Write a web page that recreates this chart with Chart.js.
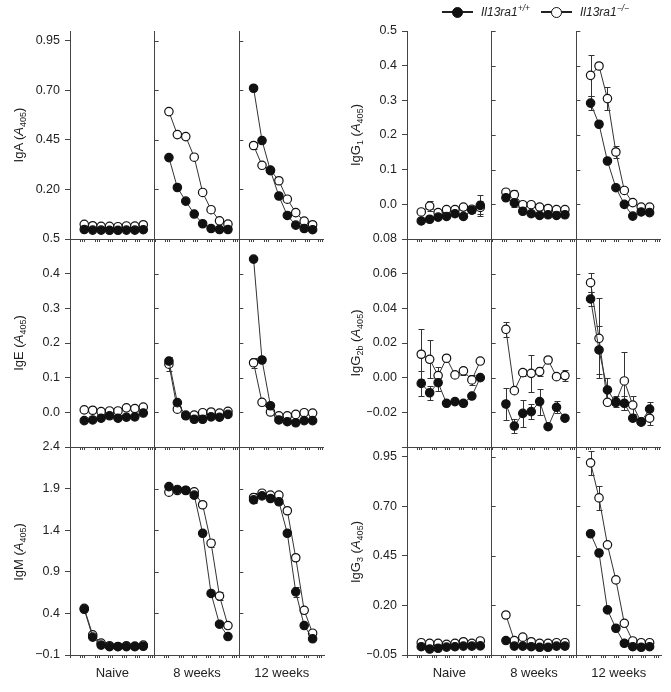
<!DOCTYPE html>
<html>
<head>
<meta charset="utf-8">
<script src="https://cdn.jsdelivr.net/npm/chart.js@4.4.1/dist/chart.umd.min.js"></script>
<style>
  html, body { margin: 0; padding: 0; background: #fff; }
  #wrap { position: relative; width: 671px; height: 692px; font-family: 'Liberation Sans', Arial, sans-serif; color: #222; }
  canvas { position: absolute; top: 0; }
  .ytitle { position: absolute; font-size: 13px; white-space: nowrap; transform: translate(-50%, -50%) rotate(-90deg); }
  .ytitle sub { font-size: 9px; vertical-align: -3px; line-height: 0; }
  .leg { position: absolute; top: 5px; font-size: 12px; font-style: italic; white-space: nowrap; }
  .leg sup { font-size: 8.5px; vertical-align: 5px; line-height: 0; }
  .key { display: inline-block; position: relative; width: 31px; height: 10px; vertical-align: -1px; margin-right: 8px; }
  .ln { position: absolute; left: 0; right: 0; top: 4px; border-top: 2px solid #222; }
  .dot { position: absolute; left: 10px; top: -0.5px; width: 9px; height: 9px; border: 1.2px solid #111; border-radius: 50%; background: #fff; }
  .dot.fill { background: #111; }
</style>
</head>
<body>
<div id="wrap">
  <canvas id="left" width="335" height="692" style="left:0"></canvas>
  <canvas id="right" width="336" height="692" style="left:335px"></canvas>

  <div class="leg" style="left:442px"><span class="key"><span class="ln"></span><span class="dot fill"></span></span>Il13ra1<sup>+/+</sup></div>
  <div class="leg" style="left:541px"><span class="key"><span class="ln"></span><span class="dot"></span></span>Il13ra1<sup>−/−</sup></div>

  <div class="ytitle" style="left:18px; top:135px">IgA (<i>A</i><sub>405</sub>)</div>
  <div class="ytitle" style="left:18px; top:343px">IgE (<i>A</i><sub>405</sub>)</div>
  <div class="ytitle" style="left:18px; top:552px">IgM (<i>A</i><sub>405</sub>)</div>
  <div class="ytitle" style="left:355px; top:135px">IgG<sub>1</sub> (<i>A</i><sub>405</sub>)</div>
  <div class="ytitle" style="left:355px; top:343px">IgG<sub>2b</sub> (<i>A</i><sub>405</sub>)</div>
  <div class="ytitle" style="left:355px; top:552px">IgG<sub>3</sub> (<i>A</i><sub>405</sub>)</div>
</div>
<script>
// panels and dilution steps
const panels = ['Naive', '8 weeks', '12 weeks'];
const dilutions = [1, 2, 3, 4, 5, 6, 7, 8];
const xTickValues = [-0.69, 0.5, 0.74, 0.98, 2.28, 2.52, 2.76, 3.83, 4.07, 4.31, 5.49, 5.73, 5.97, 7.04, 7.28, 7.52, 8.58, 8.82, 9.06];

// IgA
const igaTicks = [-0.05, 0.20, 0.45, 0.70, 0.95];
const igaWT = [
  [-0.002, -0.005, -0.005, -0.006, -0.006, -0.005, -0.005, -0.003],
  [0.361, 0.210, 0.141, 0.076, 0.027, 0.003, -0.002, -0.002],
  [0.711, 0.447, 0.295, 0.167, 0.069, 0.020, 0.003, -0.003]
];
const igaKO = [
  [0.024, 0.017, 0.014, 0.014, 0.012, 0.016, 0.015, 0.022],
  [0.593, 0.477, 0.467, 0.363, 0.185, 0.098, 0.042, 0.025],
  [0.422, 0.322, 0.298, 0.244, 0.151, 0.083, 0.040, 0.022]
];
const igaWTErr = [[0,0,0,0,0,0,0,0], [0,0,0,0,0,0,0,0], [0,0,0,0,0,0,0,0]];
const igaKOErr = [[0,0,0,0,0,0,0,0], [0,0,0,0,0,0,0,0], [0.02,0,0,0,0,0,0,0]];

// IgE
const igeTicks = [-0.1, 0.0, 0.1, 0.2, 0.3, 0.4, 0.5];
const igeWT = [
  [-0.024, -0.022, -0.017, -0.010, -0.017, -0.014, -0.013, -0.002],
  [0.148, 0.028, -0.010, -0.020, -0.020, -0.013, -0.014, -0.006],
  [0.442, 0.151, 0.019, -0.022, -0.027, -0.030, -0.024, -0.024]
];
const igeKO = [
  [0.007, 0.006, 0.002, 0.004, 0.004, 0.013, 0.011, 0.015],
  [0.139, 0.009, -0.008, -0.008, -0.001, 0.001, -0.002, 0.003],
  [0.143, 0.029, 0.001, -0.010, -0.010, -0.006, -0.001, -0.002]
];
const igeWTErr = [[0,0,0,0,0,0,0,0], [0.012,0,0,0,0,0,0,0], [0,0,0,0,0,0,0,0]];
const igeKOErr = [[0,0,0,0,0,0,0,0], [0.02,0,0,0,0,0,0,0], [0.015,0,0,0,0,0,0,0]];

// IgM
const igmTicks = [-0.1, 0.4, 0.9, 1.4, 1.9, 2.4];
const igmWT = [
  [0.449, 0.115, 0.019, 0.000, 0.000, 0.000, 0.000, 0.005],
  [1.924, 1.890, 1.880, 1.821, 1.363, 0.640, 0.270, 0.122],
  [1.765, 1.813, 1.781, 1.742, 1.363, 0.659, 0.254, 0.095]
];
const igmKO = [
  [0.460, 0.142, 0.043, 0.011, 0.003, 0.011, 0.007, 0.019],
  [1.857, 1.877, 1.877, 1.861, 1.706, 1.244, 0.608, 0.254],
  [1.793, 1.845, 1.821, 1.821, 1.634, 1.069, 0.437, 0.162]
];
const igmWTErr = [[0,0,0,0,0,0,0,0], [0,0,0,0,0,0,0,0], [0.04,0,0,0,0,0.06,0,0]];
const igmKOErr = [[0,0,0,0,0,0,0,0], [0,0,0,0,0,0.05,0.05,0], [0.06,0,0,0.04,0,0.03,0,0]];

// IgG1
const igg1Ticks = [-0.1, 0.0, 0.1, 0.2, 0.3, 0.4, 0.5];
const igg1WT = [
  [-0.048, -0.043, -0.037, -0.035, -0.027, -0.035, -0.017, -0.003],
  [0.019, 0.004, -0.020, -0.027, -0.032, -0.030, -0.032, -0.030],
  [0.292, 0.231, 0.125, 0.048, 0.000, -0.034, -0.022, -0.024]
];
const igg1KO = [
  [-0.022, -0.005, -0.024, -0.015, -0.015, -0.008, -0.014, -0.009],
  [0.035, 0.028, -0.001, -0.001, -0.008, -0.012, -0.015, -0.015],
  [0.372, 0.399, 0.305, 0.151, 0.040, 0.005, -0.008, -0.008]
];
const igg1WTErr = [[0,0,0,0,0,0,0,0.03], [0,0.012,0,0,0,0,0,0], [0.02,0,0,0,0,0,0,0]];
const igg1KOErr = [[0,0.015,0,0,0,0,0.01,0.02], [0,0.014,0,0,0,0,0,0], [0.06,0,0.033,0.018,0,0,0,0]];

// IgG2b
const igg2bTicks = [-0.04, -0.02, 0.00, 0.02, 0.04, 0.06, 0.08];
const igg2bWT = [
  [-0.0033, -0.0087, -0.0029, -0.0148, -0.0138, -0.0148, -0.0106, 0.0000],
  [-0.0152, -0.0279, -0.0206, -0.0196, -0.0138, -0.0283, -0.0171, -0.0234],
  [0.0454, 0.0160, -0.0071, -0.0144, -0.0148, -0.0234, -0.0254, -0.0181]
];
const igg2bKO = [
  [0.0135, 0.0106, 0.0012, 0.0112, 0.0016, 0.0039, -0.0013, 0.0096],
  [0.0279, -0.0075, 0.0029, 0.0025, 0.0035, 0.0102, 0.0006, 0.0012],
  [0.0548, 0.0227, -0.0142, -0.0138, -0.0019, -0.0158, -0.0257, -0.0234]
];
const igg2bWTErr = [[0.007,0.004,0.005,0,0,0,0,0], [0.009,0.004,0.008,0.0045,0.0075,0,0.0035,0], [0.004,0.014,0.007,0,0.004,0,0,0.004]];
const igg2bKOErr = [[0.0145,0.011,0.005,0,0,0.0025,0.003,0], [0.0045,0,0.002,0.0105,0.0025,0,0,0.003], [0.0055,0.023,0,0.003,0.0165,0.005,0,0.004]];

// IgG3
const igg3Ticks = [-0.05, 0.20, 0.45, 0.70, 0.95];
const igg3WT = [
  [-0.008, -0.020, -0.016, -0.010, -0.008, -0.005, -0.005, -0.004],
  [0.023, -0.005, -0.005, -0.008, -0.011, -0.011, -0.005, -0.005],
  [0.562, 0.465, 0.178, 0.085, 0.009, -0.008, -0.011, -0.008]
];
const igg3KO = [
  [0.012, 0.009, 0.009, 0.004, 0.009, 0.017, 0.009, 0.021],
  [0.152, 0.023, 0.040, 0.017, 0.009, 0.009, 0.012, 0.012],
  [0.920, 0.743, 0.506, 0.329, 0.110, 0.021, 0.012, 0.012]
];
const igg3WTErr = [[0,0,0,0,0,0,0,0], [0,0,0,0,0,0,0,0], [0,0,0,0,0,0,0,0]];
const igg3KOErr = [[0,0,0,0,0,0,0,0], [0,0,0,0,0,0,0,0], [0.06,0.06,0,0,0,0,0,0]];

const AXIS = '#444';
const X_MIN = -0.69, X_MAX = 9.35;

Chart.defaults.font.family = "'Liberation Sans', Arial, sans-serif";
Chart.defaults.color = '#222';

// error bars drawn under the markers
const errorBars = {
  id: 'errorBars',
  beforeDatasetsDraw(chart) {
    const ctx = chart.ctx;
    ctx.save();
    ctx.strokeStyle = '#333';
    ctx.lineWidth = 1;
    chart.data.datasets.forEach((ds, i) => {
      const meta = chart.getDatasetMeta(i);
      const ys = chart.scales[ds.yAxisID];
      ds.errors.forEach((e, j) => {
        if (!e) return;
        const x = Math.round(meta.data[j].x) + 0.5;
        const top = Math.round(ys.getPixelForValue(ds.data[j].y + e)) + 0.5;
        const bot = Math.round(ys.getPixelForValue(ds.data[j].y - e)) + 0.5;
        ctx.beginPath();
        ctx.moveTo(x, top); ctx.lineTo(x, bot);
        ctx.moveTo(x - 3, top); ctx.lineTo(x + 3, top);
        ctx.moveTo(x - 3, bot); ctx.lineTo(x + 3, bot);
        ctx.stroke();
      });
    });
    ctx.restore();
  }
};

// small ticks on the panel dividers and under the upper rows
const panelTicks = {
  id: 'panelTicks',
  afterDraw(chart) {
    const ctx = chart.ctx;
    const xs = panels.map((_, p) => chart.scales['x' + p]);
    const ys = Object.keys(chart.scales).filter(k => k[0] === 'y').map(k => chart.scales[k]);
    ctx.save();
    ctx.strokeStyle = AXIS;
    ctx.lineWidth = 1;
    ctx.beginPath();
    ys.forEach((ysc, r) => {
      xs.slice(1).forEach(xsc => {
        ysc.ticks.forEach(t => {
          const y = Math.round(ysc.getPixelForValue(t.value)) + 0.5;
          ctx.moveTo(xsc.left, y); ctx.lineTo(xsc.left + 4, y);
        });
      });
      if (r < ys.length - 1) {
        xs.forEach(xsc => xsc.ticks.forEach(t => {
          const x = Math.round(xsc.getPixelForValue(t.value)) + 0.5;
          ctx.moveTo(x, ysc.bottom); ctx.lineTo(x, ysc.bottom + 3);
        }));
      }
    });
    ctx.stroke();
    ctx.restore();
  }
};

function fmt(v, dec) {
  return v.toFixed(dec).replace('-', '\u2212');
}

function series(vals, errs, filled, p, r) {
  return {
    data: dilutions.map((d, i) => ({ x: d, y: vals[i] })),
    errors: errs,
    xAxisID: 'x' + p,
    yAxisID: 'y' + r,
    borderColor: '#333',
    borderWidth: 1,
    pointRadius: 4.2,
    pointBorderWidth: 1.2,
    pointBorderColor: '#111',
    pointBackgroundColor: filled ? '#111' : '#fff',
    clip: false
  };
}

function buildColumn(id, rows, pad) {
  const scales = {};
  const filledSets = [], openSets = [];
  panels.forEach((name, p) => {
    scales['x' + p] = {
      type: 'linear', position: 'bottom', stack: 'panels', stackWeight: 1, weight: p + 1,
      min: X_MIN, max: X_MAX,
      afterBuildTicks: s => { s.ticks = xTickValues.map(v => ({ value: v })); },
      afterFit: s => { s.height = 37; },
      ticks: { display: false },
      grid: {
        drawOnChartArea: true,
        color: c => (p > 0 && c.tick && c.tick.value === X_MIN) ? AXIS : 'rgba(0,0,0,0)',
        tickColor: AXIS, tickLength: 3
      },
      border: { display: true, color: AXIS, width: 1 },
      title: { display: true, text: name, color: '#222', font: { size: 13 }, padding: { top: 0, bottom: 11 } }
    };
  });
  rows.forEach((row, r) => {
    const last = r === rows.length - 1;
    scales['y' + r] = {
      type: 'linear', position: 'left', stack: 'rows', stackWeight: 1, weight: rows.length - r,
      min: row.ticks[0], max: row.max,
      afterBuildTicks: s => { s.ticks = row.ticks.map(v => ({ value: v })); },
      afterFit: s => { s.width = 40; },
      ticks: {
        autoSkip: false, padding: 5, color: '#222', font: { size: 12.5 },
        callback: (v, i) => (!last && i === 0) ? '' : fmt(v, row.dec)
      },
      grid: {
        drawOnChartArea: true,
        color: c => (!last && c.tick && c.tick.value === row.ticks[0]) ? AXIS : 'rgba(0,0,0,0)',
        tickColor: AXIS, tickLength: 5
      },
      border: { display: true, color: AXIS, width: 1 }
    };
    panels.forEach((_, p) => {
      filledSets.push(series(row.wt[p], row.wtErr[p], true, p, r));
      openSets.push(series(row.ko[p], row.koErr[p], false, p, r));
    });
  });
  return new Chart(document.getElementById(id), {
    type: 'line',
    data: { datasets: filledSets.concat(openSets) },
    options: {
      responsive: false,
      animation: false,
      devicePixelRatio: 1,
      layout: { padding: pad },
      plugins: { legend: { display: false }, tooltip: { enabled: false } },
      scales: scales
    },
    plugins: [errorBars, panelTicks]
  });
}

buildColumn('left', [
  { ticks: igaTicks, max: 1.0, dec: 2, wt: igaWT, ko: igaKO, wtErr: igaWTErr, koErr: igaKOErr },
  { ticks: igeTicks, max: 0.5, dec: 1, wt: igeWT, ko: igeKO, wtErr: igeWTErr, koErr: igeKOErr },
  { ticks: igmTicks, max: 2.4, dec: 1, wt: igmWT, ko: igmKO, wtErr: igmWTErr, koErr: igmKOErr }
], { left: 30, right: 11, top: 31, bottom: 0 });

buildColumn('right', [
  { ticks: igg1Ticks, max: 0.5, dec: 1, wt: igg1WT, ko: igg1KO, wtErr: igg1WTErr, koErr: igg1KOErr },
  { ticks: igg2bTicks, max: 0.08, dec: 2, wt: igg2bWT, ko: igg2bKO, wtErr: igg2bWTErr, koErr: igg2bKOErr },
  { ticks: igg3Ticks, max: 1.0, dec: 2, wt: igg3WT, ko: igg3KO, wtErr: igg3WTErr, koErr: igg3KOErr }
], { left: 32, right: 10, top: 31, bottom: 0 });
</script>
</body>
</html>
